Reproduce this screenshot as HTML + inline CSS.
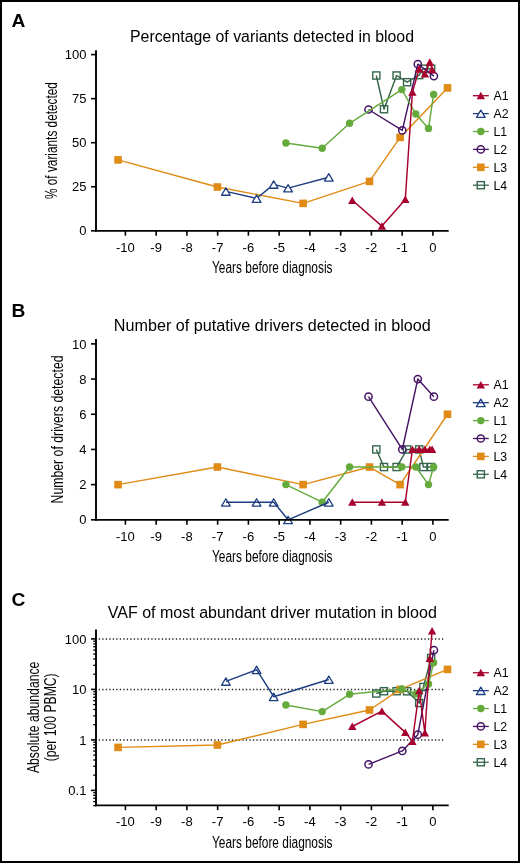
<!DOCTYPE html>
<html><head><meta charset="utf-8"><style>
html,body{margin:0;padding:0;background:#fff;}
body{width:520px;height:863px;overflow:hidden;position:relative;}
svg{position:absolute;left:0;top:0;font-family:"Liberation Sans", sans-serif;will-change:transform;}
</style></head><body>
<svg width="520" height="863" viewBox="0 0 520 863">
<rect x="1" y="1" width="518" height="861" fill="#fff" stroke="#000" stroke-width="2"/>
<polyline points="376.30,75.50 384.00,109.20 396.60,75.50 407.10,82.20 419.20,75.10 423.40,68.70 431.10,68.70" fill="none" stroke="#35664b" stroke-width="1.45" stroke-linejoin="round"/>
<rect x="372.73" y="71.92" width="7.15" height="7.15" fill="none" stroke="#35664b" stroke-width="1.4"/>
<rect x="380.43" y="105.62" width="7.15" height="7.15" fill="none" stroke="#35664b" stroke-width="1.4"/>
<rect x="393.03" y="71.92" width="7.15" height="7.15" fill="none" stroke="#35664b" stroke-width="1.4"/>
<rect x="403.53" y="78.62" width="7.15" height="7.15" fill="none" stroke="#35664b" stroke-width="1.4"/>
<rect x="415.62" y="71.52" width="7.15" height="7.15" fill="none" stroke="#35664b" stroke-width="1.4"/>
<rect x="419.82" y="65.12" width="7.15" height="7.15" fill="none" stroke="#35664b" stroke-width="1.4"/>
<rect x="427.53" y="65.12" width="7.15" height="7.15" fill="none" stroke="#35664b" stroke-width="1.4"/>
<polyline points="118.05,159.90 217.40,187.00 303.10,203.40 369.50,181.40 400.10,137.40 447.50,87.90" fill="none" stroke="#df8b16" stroke-width="1.45" stroke-linejoin="round"/>
<rect x="114.25" y="156.10" width="7.6" height="7.6" fill="#df8b16"/>
<rect x="213.60" y="183.20" width="7.6" height="7.6" fill="#df8b16"/>
<rect x="299.30" y="199.60" width="7.6" height="7.6" fill="#df8b16"/>
<rect x="365.70" y="177.60" width="7.6" height="7.6" fill="#df8b16"/>
<rect x="396.30" y="133.60" width="7.6" height="7.6" fill="#df8b16"/>
<rect x="443.70" y="84.10" width="7.6" height="7.6" fill="#df8b16"/>
<polyline points="368.50,109.50 402.30,130.40 417.80,64.20 433.90,76.10" fill="none" stroke="#461466" stroke-width="1.45" stroke-linejoin="round"/>
<circle cx="368.50" cy="109.50" r="3.6" fill="none" stroke="#461466" stroke-width="1.5"/>
<circle cx="402.30" cy="130.40" r="3.6" fill="none" stroke="#461466" stroke-width="1.5"/>
<circle cx="417.80" cy="64.20" r="3.6" fill="none" stroke="#461466" stroke-width="1.5"/>
<circle cx="433.90" cy="76.10" r="3.6" fill="none" stroke="#461466" stroke-width="1.5"/>
<polyline points="285.90,143.00 322.20,148.20 349.60,123.30 401.80,89.60 415.80,114.00 428.50,128.40 433.60,94.40" fill="none" stroke="#64aa3c" stroke-width="1.45" stroke-linejoin="round"/>
<circle cx="285.90" cy="143.00" r="3.7" fill="#64aa3c"/>
<circle cx="322.20" cy="148.20" r="3.7" fill="#64aa3c"/>
<circle cx="349.60" cy="123.30" r="3.7" fill="#64aa3c"/>
<circle cx="401.80" cy="89.60" r="3.7" fill="#64aa3c"/>
<circle cx="415.80" cy="114.00" r="3.7" fill="#64aa3c"/>
<circle cx="428.50" cy="128.40" r="3.7" fill="#64aa3c"/>
<circle cx="433.60" cy="94.40" r="3.7" fill="#64aa3c"/>
<polyline points="225.90,191.40 256.60,198.50 273.70,184.40 288.10,188.10 328.80,177.20" fill="none" stroke="#1e3e82" stroke-width="1.45" stroke-linejoin="round"/>
<path d="M225.90 187.90 L230.25 195.25 L221.55 195.25Z" fill="#fff" stroke="#1e3e82" stroke-width="1.3" stroke-linejoin="round"/>
<path d="M256.60 195.00 L260.95 202.35 L252.25 202.35Z" fill="#fff" stroke="#1e3e82" stroke-width="1.3" stroke-linejoin="round"/>
<path d="M273.70 180.90 L278.05 188.25 L269.35 188.25Z" fill="#fff" stroke="#1e3e82" stroke-width="1.3" stroke-linejoin="round"/>
<path d="M288.10 184.60 L292.45 191.95 L283.75 191.95Z" fill="#fff" stroke="#1e3e82" stroke-width="1.3" stroke-linejoin="round"/>
<path d="M328.80 173.70 L333.15 181.05 L324.45 181.05Z" fill="#fff" stroke="#1e3e82" stroke-width="1.3" stroke-linejoin="round"/>
<polyline points="352.30,200.30 381.90,226.10 405.30,199.50 412.40,92.20 419.20,68.90 424.90,73.90 429.80,62.20 432.10,69.60" fill="none" stroke="#a8002e" stroke-width="1.45" stroke-linejoin="round"/>
<path d="M352.30 196.40 L356.50 203.90 L348.10 203.90Z" fill="#a8002e"/>
<path d="M381.90 222.20 L386.10 229.70 L377.70 229.70Z" fill="#a8002e"/>
<path d="M405.30 195.60 L409.50 203.10 L401.10 203.10Z" fill="#a8002e"/>
<path d="M412.40 88.30 L416.60 95.80 L408.20 95.80Z" fill="#a8002e"/>
<path d="M419.20 65.00 L423.40 72.50 L415.00 72.50Z" fill="#a8002e"/>
<path d="M424.90 70.00 L429.10 77.50 L420.70 77.50Z" fill="#a8002e"/>
<path d="M429.80 58.30 L434.00 65.80 L425.60 65.80Z" fill="#a8002e"/>
<path d="M432.10 65.70 L436.30 73.20 L427.90 73.20Z" fill="#a8002e"/>
<text x="11.50" y="27.00" font-size="19.2" text-anchor="start" font-weight="bold" >A</text>
<text x="130.00" y="41.80" font-size="16" text-anchor="start" font-weight="normal" textLength="284" lengthAdjust="spacingAndGlyphs" >Percentage of variants detected in blood</text>
<line x1="96" y1="50.3" x2="96" y2="231.70000000000002" stroke="#000" stroke-width="1.9"/>
<line x1="95.05" y1="230.8" x2="448.7" y2="230.8" stroke="#000" stroke-width="1.8"/>
<line x1="91" y1="230.80" x2="96" y2="230.80" stroke="#000" stroke-width="1.6"/>
<text x="86.40" y="235.40" font-size="13" text-anchor="end" font-weight="normal" >0</text>
<line x1="91" y1="186.75" x2="96" y2="186.75" stroke="#000" stroke-width="1.6"/>
<text x="86.40" y="191.35" font-size="13" text-anchor="end" font-weight="normal" >25</text>
<line x1="91" y1="142.70" x2="96" y2="142.70" stroke="#000" stroke-width="1.6"/>
<text x="86.40" y="147.30" font-size="13" text-anchor="end" font-weight="normal" >50</text>
<line x1="91" y1="98.65" x2="96" y2="98.65" stroke="#000" stroke-width="1.6"/>
<text x="86.40" y="103.25" font-size="13" text-anchor="end" font-weight="normal" >75</text>
<line x1="91" y1="54.60" x2="96" y2="54.60" stroke="#000" stroke-width="1.6"/>
<text x="86.40" y="59.20" font-size="13" text-anchor="end" font-weight="normal" >100</text>
<line x1="125.40" y1="230.8" x2="125.40" y2="235.70" stroke="#000" stroke-width="1.6"/>
<text x="125.40" y="251.80" font-size="13" text-anchor="middle" font-weight="normal" >-10</text>
<line x1="156.15" y1="230.8" x2="156.15" y2="235.70" stroke="#000" stroke-width="1.6"/>
<text x="156.15" y="251.80" font-size="13" text-anchor="middle" font-weight="normal" >-9</text>
<line x1="186.90" y1="230.8" x2="186.90" y2="235.70" stroke="#000" stroke-width="1.6"/>
<text x="186.90" y="251.80" font-size="13" text-anchor="middle" font-weight="normal" >-8</text>
<line x1="217.65" y1="230.8" x2="217.65" y2="235.70" stroke="#000" stroke-width="1.6"/>
<text x="217.65" y="251.80" font-size="13" text-anchor="middle" font-weight="normal" >-7</text>
<line x1="248.40" y1="230.8" x2="248.40" y2="235.70" stroke="#000" stroke-width="1.6"/>
<text x="248.40" y="251.80" font-size="13" text-anchor="middle" font-weight="normal" >-6</text>
<line x1="279.15" y1="230.8" x2="279.15" y2="235.70" stroke="#000" stroke-width="1.6"/>
<text x="279.15" y="251.80" font-size="13" text-anchor="middle" font-weight="normal" >-5</text>
<line x1="309.90" y1="230.8" x2="309.90" y2="235.70" stroke="#000" stroke-width="1.6"/>
<text x="309.90" y="251.80" font-size="13" text-anchor="middle" font-weight="normal" >-4</text>
<line x1="340.65" y1="230.8" x2="340.65" y2="235.70" stroke="#000" stroke-width="1.6"/>
<text x="340.65" y="251.80" font-size="13" text-anchor="middle" font-weight="normal" >-3</text>
<line x1="371.40" y1="230.8" x2="371.40" y2="235.70" stroke="#000" stroke-width="1.6"/>
<text x="371.40" y="251.80" font-size="13" text-anchor="middle" font-weight="normal" >-2</text>
<line x1="402.15" y1="230.8" x2="402.15" y2="235.70" stroke="#000" stroke-width="1.6"/>
<text x="402.15" y="251.80" font-size="13" text-anchor="middle" font-weight="normal" >-1</text>
<line x1="432.90" y1="230.8" x2="432.90" y2="235.70" stroke="#000" stroke-width="1.6"/>
<text x="432.90" y="251.80" font-size="13" text-anchor="middle" font-weight="normal" >0</text>
<text x="212.00" y="272.90" font-size="16" text-anchor="start" font-weight="normal" textLength="120.5" lengthAdjust="spacingAndGlyphs" >Years before diagnosis</text>
<g transform="translate(56.5,140.55) rotate(-90)"><text x="-58.50" y="0.00" font-size="16" text-anchor="start" font-weight="normal" textLength="117" lengthAdjust="spacingAndGlyphs" >% of variants detected</text></g>
<line x1="472.9" y1="95.70" x2="488.8" y2="95.70" stroke="#a8002e" stroke-width="1.3"/>
<path d="M480.80 91.80 L485.00 99.30 L476.60 99.30Z" fill="#a8002e"/>
<text x="493.50" y="100.00" font-size="12.3" text-anchor="start" font-weight="normal" >A1</text>
<line x1="472.9" y1="113.60" x2="488.8" y2="113.60" stroke="#1e3e82" stroke-width="1.3"/>
<path d="M480.80 110.10 L485.15 117.45 L476.45 117.45Z" fill="#fff" stroke="#1e3e82" stroke-width="1.3" stroke-linejoin="round"/>
<text x="493.50" y="117.90" font-size="12.3" text-anchor="start" font-weight="normal" >A2</text>
<line x1="472.9" y1="131.50" x2="488.8" y2="131.50" stroke="#64aa3c" stroke-width="1.3"/>
<circle cx="480.80" cy="131.50" r="3.7" fill="#64aa3c"/>
<text x="493.50" y="135.80" font-size="12.3" text-anchor="start" font-weight="normal" >L1</text>
<line x1="472.9" y1="149.40" x2="488.8" y2="149.40" stroke="#461466" stroke-width="1.3"/>
<circle cx="480.80" cy="149.40" r="3.6" fill="none" stroke="#461466" stroke-width="1.5"/>
<text x="493.50" y="153.70" font-size="12.3" text-anchor="start" font-weight="normal" >L2</text>
<line x1="472.9" y1="167.30" x2="488.8" y2="167.30" stroke="#df8b16" stroke-width="1.3"/>
<rect x="477.00" y="163.50" width="7.6" height="7.6" fill="#df8b16"/>
<text x="493.50" y="171.60" font-size="12.3" text-anchor="start" font-weight="normal" >L3</text>
<line x1="472.9" y1="185.20" x2="488.8" y2="185.20" stroke="#35664b" stroke-width="1.3"/>
<rect x="477.23" y="181.62" width="7.15" height="7.15" fill="none" stroke="#35664b" stroke-width="1.4"/>
<text x="493.50" y="189.50" font-size="12.3" text-anchor="start" font-weight="normal" >L4</text>
<polyline points="376.30,449.44 384.00,467.03 396.60,467.03 407.10,449.44 419.20,449.44 423.40,467.03 431.10,467.03" fill="none" stroke="#35664b" stroke-width="1.45" stroke-linejoin="round"/>
<rect x="372.73" y="445.86" width="7.15" height="7.15" fill="none" stroke="#35664b" stroke-width="1.4"/>
<rect x="380.43" y="463.45" width="7.15" height="7.15" fill="none" stroke="#35664b" stroke-width="1.4"/>
<rect x="393.03" y="463.45" width="7.15" height="7.15" fill="none" stroke="#35664b" stroke-width="1.4"/>
<rect x="403.53" y="445.86" width="7.15" height="7.15" fill="none" stroke="#35664b" stroke-width="1.4"/>
<rect x="415.62" y="445.86" width="7.15" height="7.15" fill="none" stroke="#35664b" stroke-width="1.4"/>
<rect x="419.82" y="463.45" width="7.15" height="7.15" fill="none" stroke="#35664b" stroke-width="1.4"/>
<rect x="427.53" y="463.45" width="7.15" height="7.15" fill="none" stroke="#35664b" stroke-width="1.4"/>
<polyline points="118.05,484.62 217.40,467.03 303.10,484.62 369.50,467.03 400.10,484.62 447.50,414.26" fill="none" stroke="#df8b16" stroke-width="1.45" stroke-linejoin="round"/>
<rect x="114.25" y="480.82" width="7.6" height="7.6" fill="#df8b16"/>
<rect x="213.60" y="463.23" width="7.6" height="7.6" fill="#df8b16"/>
<rect x="299.30" y="480.82" width="7.6" height="7.6" fill="#df8b16"/>
<rect x="365.70" y="463.23" width="7.6" height="7.6" fill="#df8b16"/>
<rect x="396.30" y="480.82" width="7.6" height="7.6" fill="#df8b16"/>
<rect x="443.70" y="410.46" width="7.6" height="7.6" fill="#df8b16"/>
<polyline points="368.50,396.67 402.30,449.44 417.80,379.08 433.90,396.67" fill="none" stroke="#461466" stroke-width="1.45" stroke-linejoin="round"/>
<circle cx="368.50" cy="396.67" r="3.6" fill="none" stroke="#461466" stroke-width="1.5"/>
<circle cx="402.30" cy="449.44" r="3.6" fill="none" stroke="#461466" stroke-width="1.5"/>
<circle cx="417.80" cy="379.08" r="3.6" fill="none" stroke="#461466" stroke-width="1.5"/>
<circle cx="433.90" cy="396.67" r="3.6" fill="none" stroke="#461466" stroke-width="1.5"/>
<polyline points="285.90,484.62 322.20,502.21 349.60,467.03 401.80,467.03 415.80,467.03 428.50,484.62 433.60,467.03" fill="none" stroke="#64aa3c" stroke-width="1.45" stroke-linejoin="round"/>
<circle cx="285.90" cy="484.62" r="3.7" fill="#64aa3c"/>
<circle cx="322.20" cy="502.21" r="3.7" fill="#64aa3c"/>
<circle cx="349.60" cy="467.03" r="3.7" fill="#64aa3c"/>
<circle cx="401.80" cy="467.03" r="3.7" fill="#64aa3c"/>
<circle cx="415.80" cy="467.03" r="3.7" fill="#64aa3c"/>
<circle cx="428.50" cy="484.62" r="3.7" fill="#64aa3c"/>
<circle cx="433.60" cy="467.03" r="3.7" fill="#64aa3c"/>
<polyline points="225.90,502.21 256.60,502.21 273.70,502.21 288.10,519.80 328.80,502.21" fill="none" stroke="#1e3e82" stroke-width="1.45" stroke-linejoin="round"/>
<path d="M225.90 498.71 L230.25 506.06 L221.55 506.06Z" fill="none" stroke="#1e3e82" stroke-width="1.3" stroke-linejoin="round"/>
<path d="M256.60 498.71 L260.95 506.06 L252.25 506.06Z" fill="none" stroke="#1e3e82" stroke-width="1.3" stroke-linejoin="round"/>
<path d="M273.70 498.71 L278.05 506.06 L269.35 506.06Z" fill="none" stroke="#1e3e82" stroke-width="1.3" stroke-linejoin="round"/>
<path d="M288.10 516.30 L292.45 523.65 L283.75 523.65Z" fill="none" stroke="#1e3e82" stroke-width="1.3" stroke-linejoin="round"/>
<path d="M328.80 498.71 L333.15 506.06 L324.45 506.06Z" fill="none" stroke="#1e3e82" stroke-width="1.3" stroke-linejoin="round"/>
<polyline points="352.30,502.21 381.90,502.21 405.30,502.21 412.40,449.44 419.20,449.44 424.90,449.44 429.80,449.44 432.10,449.44" fill="none" stroke="#a8002e" stroke-width="1.45" stroke-linejoin="round"/>
<path d="M352.30 498.31 L356.50 505.81 L348.10 505.81Z" fill="#a8002e"/>
<path d="M381.90 498.31 L386.10 505.81 L377.70 505.81Z" fill="#a8002e"/>
<path d="M405.30 498.31 L409.50 505.81 L401.10 505.81Z" fill="#a8002e"/>
<path d="M412.40 445.54 L416.60 453.04 L408.20 453.04Z" fill="#a8002e"/>
<path d="M419.20 445.54 L423.40 453.04 L415.00 453.04Z" fill="#a8002e"/>
<path d="M424.90 445.54 L429.10 453.04 L420.70 453.04Z" fill="#a8002e"/>
<path d="M429.80 445.54 L434.00 453.04 L425.60 453.04Z" fill="#a8002e"/>
<path d="M432.10 445.54 L436.30 453.04 L427.90 453.04Z" fill="#a8002e"/>
<text x="11.50" y="317.00" font-size="19.2" text-anchor="start" font-weight="bold" >B</text>
<text x="113.80" y="330.60" font-size="16" text-anchor="start" font-weight="normal" textLength="317" lengthAdjust="spacingAndGlyphs" >Number of putative drivers detected in blood</text>
<line x1="96" y1="339.1" x2="96" y2="520.6999999999999" stroke="#000" stroke-width="1.9"/>
<line x1="95.05" y1="519.8" x2="448.7" y2="519.8" stroke="#000" stroke-width="1.8"/>
<line x1="91" y1="519.80" x2="96" y2="519.80" stroke="#000" stroke-width="1.6"/>
<text x="86.40" y="524.40" font-size="13" text-anchor="end" font-weight="normal" >0</text>
<line x1="91" y1="484.62" x2="96" y2="484.62" stroke="#000" stroke-width="1.6"/>
<text x="86.40" y="489.22" font-size="13" text-anchor="end" font-weight="normal" >2</text>
<line x1="91" y1="449.44" x2="96" y2="449.44" stroke="#000" stroke-width="1.6"/>
<text x="86.40" y="454.04" font-size="13" text-anchor="end" font-weight="normal" >4</text>
<line x1="91" y1="414.26" x2="96" y2="414.26" stroke="#000" stroke-width="1.6"/>
<text x="86.40" y="418.86" font-size="13" text-anchor="end" font-weight="normal" >6</text>
<line x1="91" y1="379.08" x2="96" y2="379.08" stroke="#000" stroke-width="1.6"/>
<text x="86.40" y="383.68" font-size="13" text-anchor="end" font-weight="normal" >8</text>
<line x1="91" y1="343.90" x2="96" y2="343.90" stroke="#000" stroke-width="1.6"/>
<text x="86.40" y="348.50" font-size="13" text-anchor="end" font-weight="normal" >10</text>
<line x1="125.40" y1="519.8" x2="125.40" y2="524.70" stroke="#000" stroke-width="1.6"/>
<text x="125.40" y="540.80" font-size="13" text-anchor="middle" font-weight="normal" >-10</text>
<line x1="156.15" y1="519.8" x2="156.15" y2="524.70" stroke="#000" stroke-width="1.6"/>
<text x="156.15" y="540.80" font-size="13" text-anchor="middle" font-weight="normal" >-9</text>
<line x1="186.90" y1="519.8" x2="186.90" y2="524.70" stroke="#000" stroke-width="1.6"/>
<text x="186.90" y="540.80" font-size="13" text-anchor="middle" font-weight="normal" >-8</text>
<line x1="217.65" y1="519.8" x2="217.65" y2="524.70" stroke="#000" stroke-width="1.6"/>
<text x="217.65" y="540.80" font-size="13" text-anchor="middle" font-weight="normal" >-7</text>
<line x1="248.40" y1="519.8" x2="248.40" y2="524.70" stroke="#000" stroke-width="1.6"/>
<text x="248.40" y="540.80" font-size="13" text-anchor="middle" font-weight="normal" >-6</text>
<line x1="279.15" y1="519.8" x2="279.15" y2="524.70" stroke="#000" stroke-width="1.6"/>
<text x="279.15" y="540.80" font-size="13" text-anchor="middle" font-weight="normal" >-5</text>
<line x1="309.90" y1="519.8" x2="309.90" y2="524.70" stroke="#000" stroke-width="1.6"/>
<text x="309.90" y="540.80" font-size="13" text-anchor="middle" font-weight="normal" >-4</text>
<line x1="340.65" y1="519.8" x2="340.65" y2="524.70" stroke="#000" stroke-width="1.6"/>
<text x="340.65" y="540.80" font-size="13" text-anchor="middle" font-weight="normal" >-3</text>
<line x1="371.40" y1="519.8" x2="371.40" y2="524.70" stroke="#000" stroke-width="1.6"/>
<text x="371.40" y="540.80" font-size="13" text-anchor="middle" font-weight="normal" >-2</text>
<line x1="402.15" y1="519.8" x2="402.15" y2="524.70" stroke="#000" stroke-width="1.6"/>
<text x="402.15" y="540.80" font-size="13" text-anchor="middle" font-weight="normal" >-1</text>
<line x1="432.90" y1="519.8" x2="432.90" y2="524.70" stroke="#000" stroke-width="1.6"/>
<text x="432.90" y="540.80" font-size="13" text-anchor="middle" font-weight="normal" >0</text>
<text x="212.00" y="562.10" font-size="16" text-anchor="start" font-weight="normal" textLength="120.5" lengthAdjust="spacingAndGlyphs" >Years before diagnosis</text>
<g transform="translate(63,429.45) rotate(-90)"><text x="-74.00" y="0.00" font-size="16" text-anchor="start" font-weight="normal" textLength="148" lengthAdjust="spacingAndGlyphs" >Number of drivers detected</text></g>
<line x1="472.9" y1="384.80" x2="488.8" y2="384.80" stroke="#a8002e" stroke-width="1.3"/>
<path d="M480.80 380.90 L485.00 388.40 L476.60 388.40Z" fill="#a8002e"/>
<text x="493.50" y="389.10" font-size="12.3" text-anchor="start" font-weight="normal" >A1</text>
<line x1="472.9" y1="402.70" x2="488.8" y2="402.70" stroke="#1e3e82" stroke-width="1.3"/>
<path d="M480.80 399.20 L485.15 406.55 L476.45 406.55Z" fill="none" stroke="#1e3e82" stroke-width="1.3" stroke-linejoin="round"/>
<text x="493.50" y="407.00" font-size="12.3" text-anchor="start" font-weight="normal" >A2</text>
<line x1="472.9" y1="420.60" x2="488.8" y2="420.60" stroke="#64aa3c" stroke-width="1.3"/>
<circle cx="480.80" cy="420.60" r="3.7" fill="#64aa3c"/>
<text x="493.50" y="424.90" font-size="12.3" text-anchor="start" font-weight="normal" >L1</text>
<line x1="472.9" y1="438.50" x2="488.8" y2="438.50" stroke="#461466" stroke-width="1.3"/>
<circle cx="480.80" cy="438.50" r="3.6" fill="none" stroke="#461466" stroke-width="1.5"/>
<text x="493.50" y="442.80" font-size="12.3" text-anchor="start" font-weight="normal" >L2</text>
<line x1="472.9" y1="456.40" x2="488.8" y2="456.40" stroke="#df8b16" stroke-width="1.3"/>
<rect x="477.00" y="452.60" width="7.6" height="7.6" fill="#df8b16"/>
<text x="493.50" y="460.70" font-size="12.3" text-anchor="start" font-weight="normal" >L3</text>
<line x1="472.9" y1="474.30" x2="488.8" y2="474.30" stroke="#35664b" stroke-width="1.3"/>
<rect x="477.23" y="470.73" width="7.15" height="7.15" fill="none" stroke="#35664b" stroke-width="1.4"/>
<text x="493.50" y="478.60" font-size="12.3" text-anchor="start" font-weight="normal" >L4</text>
<line x1="98.75" y1="638.9" x2="443.4" y2="638.9" stroke="#222" stroke-width="1.5" stroke-dasharray="1.3 2.202"/>
<line x1="98.75" y1="689.4" x2="443.4" y2="689.4" stroke="#222" stroke-width="1.5" stroke-dasharray="1.3 2.202"/>
<line x1="98.75" y1="740.0" x2="443.4" y2="740.0" stroke="#222" stroke-width="1.5" stroke-dasharray="1.3 2.202"/>
<polyline points="376.30,693.50 384.00,691.20 396.60,691.20 407.10,691.30 419.20,703.00 423.40,687.00 431.10,658.00" fill="none" stroke="#35664b" stroke-width="1.45" stroke-linejoin="round"/>
<rect x="372.73" y="689.92" width="7.15" height="7.15" fill="none" stroke="#35664b" stroke-width="1.4"/>
<rect x="380.43" y="687.62" width="7.15" height="7.15" fill="none" stroke="#35664b" stroke-width="1.4"/>
<rect x="393.03" y="687.62" width="7.15" height="7.15" fill="none" stroke="#35664b" stroke-width="1.4"/>
<rect x="403.53" y="687.72" width="7.15" height="7.15" fill="none" stroke="#35664b" stroke-width="1.4"/>
<rect x="415.62" y="699.42" width="7.15" height="7.15" fill="none" stroke="#35664b" stroke-width="1.4"/>
<rect x="419.82" y="683.42" width="7.15" height="7.15" fill="none" stroke="#35664b" stroke-width="1.4"/>
<rect x="427.53" y="654.42" width="7.15" height="7.15" fill="none" stroke="#35664b" stroke-width="1.4"/>
<polyline points="118.05,747.40 217.40,745.00 303.10,724.40 369.50,710.00 400.10,689.40 447.50,669.40" fill="none" stroke="#df8b16" stroke-width="1.45" stroke-linejoin="round"/>
<rect x="114.25" y="743.60" width="7.6" height="7.6" fill="#df8b16"/>
<rect x="213.60" y="741.20" width="7.6" height="7.6" fill="#df8b16"/>
<rect x="299.30" y="720.60" width="7.6" height="7.6" fill="#df8b16"/>
<rect x="365.70" y="706.20" width="7.6" height="7.6" fill="#df8b16"/>
<rect x="396.30" y="685.60" width="7.6" height="7.6" fill="#df8b16"/>
<rect x="443.70" y="665.60" width="7.6" height="7.6" fill="#df8b16"/>
<polyline points="368.50,764.40 402.30,750.90 417.80,734.70 433.90,650.10" fill="none" stroke="#461466" stroke-width="1.45" stroke-linejoin="round"/>
<circle cx="368.50" cy="764.40" r="3.6" fill="none" stroke="#461466" stroke-width="1.5"/>
<circle cx="402.30" cy="750.90" r="3.6" fill="none" stroke="#461466" stroke-width="1.5"/>
<circle cx="417.80" cy="734.70" r="3.6" fill="none" stroke="#461466" stroke-width="1.5"/>
<circle cx="433.90" cy="650.10" r="3.6" fill="none" stroke="#461466" stroke-width="1.5"/>
<polyline points="285.90,705.00 322.20,711.60 349.60,694.30 401.80,688.90 415.80,693.70 428.50,684.00 433.60,662.80" fill="none" stroke="#64aa3c" stroke-width="1.45" stroke-linejoin="round"/>
<circle cx="285.90" cy="705.00" r="3.7" fill="#64aa3c"/>
<circle cx="322.20" cy="711.60" r="3.7" fill="#64aa3c"/>
<circle cx="349.60" cy="694.30" r="3.7" fill="#64aa3c"/>
<circle cx="401.80" cy="688.90" r="3.7" fill="#64aa3c"/>
<circle cx="415.80" cy="693.70" r="3.7" fill="#64aa3c"/>
<circle cx="428.50" cy="684.00" r="3.7" fill="#64aa3c"/>
<circle cx="433.60" cy="662.80" r="3.7" fill="#64aa3c"/>
<polyline points="225.90,681.40 256.60,669.70 273.70,696.70 328.80,679.50" fill="none" stroke="#1e3e82" stroke-width="1.45" stroke-linejoin="round"/>
<path d="M225.90 677.90 L230.25 685.25 L221.55 685.25Z" fill="none" stroke="#1e3e82" stroke-width="1.3" stroke-linejoin="round"/>
<path d="M256.60 666.20 L260.95 673.55 L252.25 673.55Z" fill="none" stroke="#1e3e82" stroke-width="1.3" stroke-linejoin="round"/>
<path d="M273.70 693.20 L278.05 700.55 L269.35 700.55Z" fill="none" stroke="#1e3e82" stroke-width="1.3" stroke-linejoin="round"/>
<path d="M328.80 676.00 L333.15 683.35 L324.45 683.35Z" fill="none" stroke="#1e3e82" stroke-width="1.3" stroke-linejoin="round"/>
<polyline points="352.30,726.50 381.90,711.10 405.30,732.40 412.40,741.40 419.20,690.70 424.90,732.80 429.80,658.40 432.10,630.80" fill="none" stroke="#a8002e" stroke-width="1.45" stroke-linejoin="round"/>
<path d="M352.30 722.60 L356.50 730.10 L348.10 730.10Z" fill="#a8002e"/>
<path d="M381.90 707.20 L386.10 714.70 L377.70 714.70Z" fill="#a8002e"/>
<path d="M405.30 728.50 L409.50 736.00 L401.10 736.00Z" fill="#a8002e"/>
<path d="M412.40 737.50 L416.60 745.00 L408.20 745.00Z" fill="#a8002e"/>
<path d="M419.20 686.80 L423.40 694.30 L415.00 694.30Z" fill="#a8002e"/>
<path d="M424.90 728.90 L429.10 736.40 L420.70 736.40Z" fill="#a8002e"/>
<path d="M429.80 654.50 L434.00 662.00 L425.60 662.00Z" fill="#a8002e"/>
<path d="M432.10 626.90 L436.30 634.40 L427.90 634.40Z" fill="#a8002e"/>
<text x="11.50" y="606.30" font-size="19.2" text-anchor="start" font-weight="bold" >C</text>
<text x="107.80" y="618.30" font-size="16" text-anchor="start" font-weight="normal" textLength="329" lengthAdjust="spacingAndGlyphs" >VAF of most abundant driver mutation in blood</text>
<line x1="96" y1="629.4" x2="96" y2="806.1999999999999" stroke="#000" stroke-width="1.9"/>
<line x1="95.05" y1="805.3" x2="448.7" y2="805.3" stroke="#000" stroke-width="1.8"/>
<line x1="91" y1="638.90" x2="96" y2="638.90" stroke="#000" stroke-width="1.6"/>
<text x="86.40" y="643.50" font-size="13" text-anchor="end" font-weight="normal" >100</text>
<line x1="91" y1="689.40" x2="96" y2="689.40" stroke="#000" stroke-width="1.6"/>
<text x="86.40" y="694.00" font-size="13" text-anchor="end" font-weight="normal" >10</text>
<line x1="91" y1="739.90" x2="96" y2="739.90" stroke="#000" stroke-width="1.6"/>
<text x="86.40" y="744.50" font-size="13" text-anchor="end" font-weight="normal" >1</text>
<line x1="91" y1="790.40" x2="96" y2="790.40" stroke="#000" stroke-width="1.6"/>
<text x="86.40" y="795.00" font-size="13" text-anchor="end" font-weight="normal" >0.1</text>
<line x1="93.2" y1="805.60" x2="96" y2="805.60" stroke="#000" stroke-width="1.3"/>
<line x1="93.2" y1="801.60" x2="96" y2="801.60" stroke="#000" stroke-width="1.3"/>
<line x1="93.2" y1="798.22" x2="96" y2="798.22" stroke="#000" stroke-width="1.3"/>
<line x1="93.2" y1="795.29" x2="96" y2="795.29" stroke="#000" stroke-width="1.3"/>
<line x1="93.2" y1="792.71" x2="96" y2="792.71" stroke="#000" stroke-width="1.3"/>
<line x1="93.2" y1="775.20" x2="96" y2="775.20" stroke="#000" stroke-width="1.3"/>
<line x1="93.2" y1="766.31" x2="96" y2="766.31" stroke="#000" stroke-width="1.3"/>
<line x1="93.2" y1="760.00" x2="96" y2="760.00" stroke="#000" stroke-width="1.3"/>
<line x1="93.2" y1="755.10" x2="96" y2="755.10" stroke="#000" stroke-width="1.3"/>
<line x1="93.2" y1="751.10" x2="96" y2="751.10" stroke="#000" stroke-width="1.3"/>
<line x1="93.2" y1="747.72" x2="96" y2="747.72" stroke="#000" stroke-width="1.3"/>
<line x1="93.2" y1="744.79" x2="96" y2="744.79" stroke="#000" stroke-width="1.3"/>
<line x1="93.2" y1="742.21" x2="96" y2="742.21" stroke="#000" stroke-width="1.3"/>
<line x1="93.2" y1="724.70" x2="96" y2="724.70" stroke="#000" stroke-width="1.3"/>
<line x1="93.2" y1="715.81" x2="96" y2="715.81" stroke="#000" stroke-width="1.3"/>
<line x1="93.2" y1="709.50" x2="96" y2="709.50" stroke="#000" stroke-width="1.3"/>
<line x1="93.2" y1="704.60" x2="96" y2="704.60" stroke="#000" stroke-width="1.3"/>
<line x1="93.2" y1="700.60" x2="96" y2="700.60" stroke="#000" stroke-width="1.3"/>
<line x1="93.2" y1="697.22" x2="96" y2="697.22" stroke="#000" stroke-width="1.3"/>
<line x1="93.2" y1="694.29" x2="96" y2="694.29" stroke="#000" stroke-width="1.3"/>
<line x1="93.2" y1="691.71" x2="96" y2="691.71" stroke="#000" stroke-width="1.3"/>
<line x1="93.2" y1="674.20" x2="96" y2="674.20" stroke="#000" stroke-width="1.3"/>
<line x1="93.2" y1="665.31" x2="96" y2="665.31" stroke="#000" stroke-width="1.3"/>
<line x1="93.2" y1="659.00" x2="96" y2="659.00" stroke="#000" stroke-width="1.3"/>
<line x1="93.2" y1="654.10" x2="96" y2="654.10" stroke="#000" stroke-width="1.3"/>
<line x1="93.2" y1="650.10" x2="96" y2="650.10" stroke="#000" stroke-width="1.3"/>
<line x1="93.2" y1="646.72" x2="96" y2="646.72" stroke="#000" stroke-width="1.3"/>
<line x1="93.2" y1="643.79" x2="96" y2="643.79" stroke="#000" stroke-width="1.3"/>
<line x1="93.2" y1="641.21" x2="96" y2="641.21" stroke="#000" stroke-width="1.3"/>
<line x1="125.40" y1="805.3" x2="125.40" y2="810.20" stroke="#000" stroke-width="1.6"/>
<text x="125.40" y="826.30" font-size="13" text-anchor="middle" font-weight="normal" >-10</text>
<line x1="156.15" y1="805.3" x2="156.15" y2="810.20" stroke="#000" stroke-width="1.6"/>
<text x="156.15" y="826.30" font-size="13" text-anchor="middle" font-weight="normal" >-9</text>
<line x1="186.90" y1="805.3" x2="186.90" y2="810.20" stroke="#000" stroke-width="1.6"/>
<text x="186.90" y="826.30" font-size="13" text-anchor="middle" font-weight="normal" >-8</text>
<line x1="217.65" y1="805.3" x2="217.65" y2="810.20" stroke="#000" stroke-width="1.6"/>
<text x="217.65" y="826.30" font-size="13" text-anchor="middle" font-weight="normal" >-7</text>
<line x1="248.40" y1="805.3" x2="248.40" y2="810.20" stroke="#000" stroke-width="1.6"/>
<text x="248.40" y="826.30" font-size="13" text-anchor="middle" font-weight="normal" >-6</text>
<line x1="279.15" y1="805.3" x2="279.15" y2="810.20" stroke="#000" stroke-width="1.6"/>
<text x="279.15" y="826.30" font-size="13" text-anchor="middle" font-weight="normal" >-5</text>
<line x1="309.90" y1="805.3" x2="309.90" y2="810.20" stroke="#000" stroke-width="1.6"/>
<text x="309.90" y="826.30" font-size="13" text-anchor="middle" font-weight="normal" >-4</text>
<line x1="340.65" y1="805.3" x2="340.65" y2="810.20" stroke="#000" stroke-width="1.6"/>
<text x="340.65" y="826.30" font-size="13" text-anchor="middle" font-weight="normal" >-3</text>
<line x1="371.40" y1="805.3" x2="371.40" y2="810.20" stroke="#000" stroke-width="1.6"/>
<text x="371.40" y="826.30" font-size="13" text-anchor="middle" font-weight="normal" >-2</text>
<line x1="402.15" y1="805.3" x2="402.15" y2="810.20" stroke="#000" stroke-width="1.6"/>
<text x="402.15" y="826.30" font-size="13" text-anchor="middle" font-weight="normal" >-1</text>
<line x1="432.90" y1="805.3" x2="432.90" y2="810.20" stroke="#000" stroke-width="1.6"/>
<text x="432.90" y="826.30" font-size="13" text-anchor="middle" font-weight="normal" >0</text>
<text x="212.00" y="847.80" font-size="16" text-anchor="start" font-weight="normal" textLength="120.5" lengthAdjust="spacingAndGlyphs" >Years before diagnosis</text>
<g transform="translate(38.5,717.3499999999999) rotate(-90)"><text x="-55.75" y="0.00" font-size="16" text-anchor="start" font-weight="normal" textLength="111.5" lengthAdjust="spacingAndGlyphs" >Absolute abundance</text></g>
<g transform="translate(56.0,717.3499999999999) rotate(-90)"><text x="-44.00" y="0.00" font-size="16" text-anchor="start" font-weight="normal" textLength="88" lengthAdjust="spacingAndGlyphs" >(per 100 PBMC)</text></g>
<line x1="472.9" y1="672.75" x2="488.8" y2="672.75" stroke="#a8002e" stroke-width="1.3"/>
<path d="M480.80 668.85 L485.00 676.35 L476.60 676.35Z" fill="#a8002e"/>
<text x="493.50" y="677.05" font-size="12.3" text-anchor="start" font-weight="normal" >A1</text>
<line x1="472.9" y1="690.65" x2="488.8" y2="690.65" stroke="#1e3e82" stroke-width="1.3"/>
<path d="M480.80 687.15 L485.15 694.50 L476.45 694.50Z" fill="none" stroke="#1e3e82" stroke-width="1.3" stroke-linejoin="round"/>
<text x="493.50" y="694.95" font-size="12.3" text-anchor="start" font-weight="normal" >A2</text>
<line x1="472.9" y1="708.55" x2="488.8" y2="708.55" stroke="#64aa3c" stroke-width="1.3"/>
<circle cx="480.80" cy="708.55" r="3.7" fill="#64aa3c"/>
<text x="493.50" y="712.85" font-size="12.3" text-anchor="start" font-weight="normal" >L1</text>
<line x1="472.9" y1="726.45" x2="488.8" y2="726.45" stroke="#461466" stroke-width="1.3"/>
<circle cx="480.80" cy="726.45" r="3.6" fill="none" stroke="#461466" stroke-width="1.5"/>
<text x="493.50" y="730.75" font-size="12.3" text-anchor="start" font-weight="normal" >L2</text>
<line x1="472.9" y1="744.35" x2="488.8" y2="744.35" stroke="#df8b16" stroke-width="1.3"/>
<rect x="477.00" y="740.55" width="7.6" height="7.6" fill="#df8b16"/>
<text x="493.50" y="748.65" font-size="12.3" text-anchor="start" font-weight="normal" >L3</text>
<line x1="472.9" y1="762.25" x2="488.8" y2="762.25" stroke="#35664b" stroke-width="1.3"/>
<rect x="477.23" y="758.67" width="7.15" height="7.15" fill="none" stroke="#35664b" stroke-width="1.4"/>
<text x="493.50" y="766.55" font-size="12.3" text-anchor="start" font-weight="normal" >L4</text>
</svg></body></html>
